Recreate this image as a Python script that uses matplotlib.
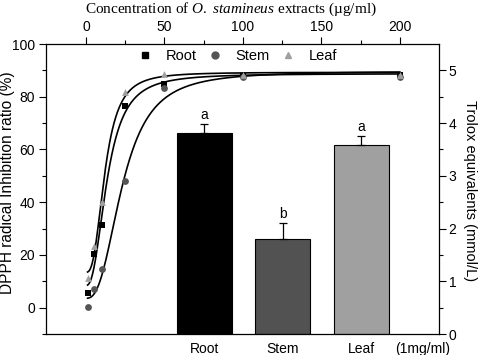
import numpy as np
import matplotlib
matplotlib.use("Agg")
import matplotlib.pyplot as plt
from matplotlib.lines import Line2D

# ---- data ----
conc = [1, 5, 10, 25, 50, 100, 200]            # µg/ml
root_pct = [5.4, 20.4, 31.2, 76.5, 84.7, 88.0, 88.3]
stem_pct = [0.1, 7.1, 14.6, 47.9, 83.2, 87.3, 87.5]
leaf_pct = [11.3, 23.2, 40.0, 81.9, 88.5, 88.2, 88.3]

parts = ["Root", "Stem", "Leaf"]
trolox = [3.81, 1.80, 3.58]                    # mmol/L
trolox_err = [0.17, 0.30, 0.17]
sig_letters = ["a", "b", "a"]

top_ticks = [0, 50, 100, 150, 200]

plt.rcParams['font.family'] = ['Liberation Sans', 'DejaVu Sans']
plt.rcParams['mathtext.fontset'] = 'custom'
plt.rcParams['mathtext.rm'] = 'Liberation Serif'
plt.rcParams['mathtext.it'] = 'Liberation Serif:italic'

def hill(x, p):
    a1, a2, x0, n = p
    return a1 + (a2 - a1) / (1.0 + (x0 / x) ** n)

def fit_hill(x, y, p0):
    x = np.asarray(x, float); y = np.asarray(y, float)
    p = np.array(p0, float)
    lam = 1e-2
    def res(pp):
        return hill(x, pp) - y
    r = res(p); cost = (r ** 2).sum()
    for _ in range(500):
        J = np.zeros((len(x), len(p)))
        for k in range(len(p)):
            dp = np.zeros_like(p); dp[k] = 1e-6 * max(1.0, abs(p[k]))
            J[:, k] = (res(p + dp) - r) / dp[k]
        A = J.T @ J; g = J.T @ r
        step = np.linalg.solve(A + lam * np.diag(np.diag(A) + 1e-9), -g)
        pn = p + step
        if pn[2] <= 0 or pn[3] <= 0:
            lam *= 10; continue
        rn = res(pn); cn = (rn ** 2).sum()
        if cn < cost:
            p, r, cost = pn, rn, cn
            lam = max(lam / 3, 1e-9)
        else:
            lam *= 10
        if lam > 1e8:
            break
    return p

fig = plt.figure(figsize=(4.8, 3.55), dpi=100)
pos = [46 / 480, 1 - 334 / 355, (439 - 46) / 480, (334 - 44) / 355]

# ---- bar axes (bottom categories, right y) ----
axb = fig.add_axes(pos)
xb = np.arange(len(parts))
colors = ["#000000", "#525252", "#a0a0a0"]
axb.bar(xb, trolox, width=0.7, color=colors, edgecolor="black", linewidth=0.8, zorder=2)
axb.errorbar(xb, trolox, yerr=[np.zeros(3), trolox_err], fmt="none", ecolor="black",
             elinewidth=0.9, capsize=3, capthick=0.9, zorder=3)
for xi, v, e, s in zip(xb, trolox, trolox_err, sig_letters):
    axb.text(xi, v + e + 0.04, s, ha="center", va="bottom", fontsize=10)
axb.set_xlim(-2.02, 2.99)
axb.set_ylim(0, 5.5)
axb.set_xticks(list(xb) + [2.78])
axb.set_xticklabels(parts + ["(1mg/ml)"], fontsize=10)
axb.tick_params(axis="x", length=0, pad=6)
axb.yaxis.tick_right()
axb.yaxis.set_label_position("right")
axb.set_yticks([0, 1, 2, 3, 4, 5])
axb.set_yticks(np.arange(0.5, 5.5, 1.0), minor=True)
axb.tick_params(axis="y", which="major", direction="out", length=5, width=0.8, labelsize=10, pad=2)
axb.tick_params(axis="y", which="minor", direction="out", length=3, width=0.8)
axb.set_ylabel("Trolox equivalents (mmol/L)", rotation=-90, fontsize=10.5, va="center")
axb.yaxis.set_label_coords(1.078, 0.495)
for sp in axb.spines.values():
    sp.set_linewidth(0.9)

# ---- scatter axes (top x, left y) ----
axs = fig.add_axes(pos, frameon=False)
axs.patch.set_alpha(0)
xs_fit = np.linspace(1, 200, 800)
series = [
    ("Root", root_pct, "s", "#000000", [0, 88, 15, 2]),
    ("Stem", stem_pct, "o", "#555555", [0, 88, 25, 2]),
    ("Leaf", leaf_pct, "^", "#a0a0a0", [0, 88, 12, 2]),
]
for name, y, m, c, p0 in series:
    p = fit_hill(conc, y, p0)
    axs.plot(xs_fit, hill(xs_fit, p), color="black", lw=1.2, zorder=3)
for name, y, m, c, p0 in series:
    axs.scatter(conc, y, marker=m, color=c, s=24, zorder=4, linewidths=0)
axs.set_xlim(-25.5, 225)
axs.set_ylim(-10, 100)
axs.xaxis.tick_top()
axs.xaxis.set_label_position("top")
axs.set_xticks(top_ticks)
axs.set_xticks([25, 75, 125, 175], minor=True)
axs.tick_params(axis="x", which="major", direction="out", length=5, width=0.8, labelsize=10, pad=2)
axs.tick_params(axis="x", which="minor", direction="out", length=3, width=0.8)
axs.set_yticks([0, 20, 40, 60, 80, 100])
axs.set_yticks([-10, 10, 30, 50, 70, 90], minor=True)
axs.tick_params(axis="y", which="major", direction="out", length=5, width=0.8, labelsize=10, pad=3)
axs.tick_params(axis="y", which="minor", direction="out", length=3, width=0.8)
axs.set_ylabel("DPPH radical Inhibition ratio (%)", fontsize=11.2, va="center")
axs.yaxis.set_label_coords(-0.097, 0.522)
axs.set_xlabel("Concentration of $\\mathit{O.\\ stamineus}$ extracts (µg/ml)",
               fontsize=11, family="Liberation Serif", va="center")
axs.xaxis.set_label_coords(0.471, 1.121)

handles = [Line2D([], [], marker=m, color=c, ls="none", markersize=5) for _, _, m, c, _ in series]
axs.legend(handles, [s[0] for s in series], ncol=3, loc="center",
           bbox_to_anchor=(0.487, 0.958), frameon=False, fontsize=10.5,
           handletextpad=0.9, columnspacing=0.75, handlelength=1.0, borderaxespad=0.0)

fig.savefig("out.png", dpi=100)
